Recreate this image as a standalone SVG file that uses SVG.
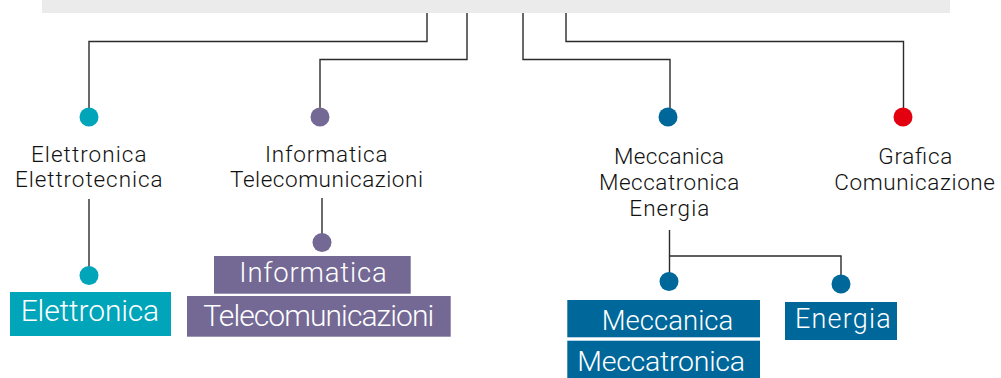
<svg xmlns="http://www.w3.org/2000/svg" width="1001" height="378" viewBox="0 0 1001 378">
<style>
.lbl{font-family:Roboto,"Liberation Sans",sans-serif;font-weight:300;font-size:22.5px;fill:#111111}
.box{font-family:Roboto,"Liberation Sans",sans-serif;font-weight:300;font-size:30px;fill:#ffffff}
.ln{fill:none;stroke:#2b2b2b;stroke-width:1.4}
.teal{fill:#00a5b9}.purple{fill:#736994}.blue{fill:#00679b}.red{fill:#e3000f}
</style>
<rect x="42" y="0" width="908" height="13" fill="#ebebeb"/>
<g id="connectors">
<path class="ln" d="M427 13V41.5H89V110"/>
<path class="ln" d="M467 13V59.5H320V110"/>
<path class="ln" d="M523 13V59.5H670V110"/>
<path class="ln" d="M566 13V41.5H903.5V110"/>
<path class="ln" d="M89 199V270"/>
<path class="ln" d="M322 198V236"/>
<path class="ln" d="M669.5 230V275M669.5 256H841V278"/>
</g>
<g id="elettronica">
<circle class="teal" cx="89" cy="117" r="9.5"/>
<text class="lbl" x="31" y="161.5" textLength="115.5">Elettronica</text>
<text class="lbl" x="15" y="187" textLength="147.5">Elettrotecnica</text>
<circle class="teal" cx="89" cy="275.5" r="9.5"/>
<rect class="teal" x="10" y="292" width="161" height="44"/>
<text class="box" x="20.7" y="320.5" textLength="138.5">Elettronica</text>
</g>
<g id="informatica">
<circle class="purple" cx="320" cy="117" r="9.5"/>
<text class="lbl" x="265" y="161.5" textLength="122.5">Informatica</text>
<text class="lbl" x="230" y="187" textLength="193">Telecomunicazioni</text>
<circle class="purple" cx="322" cy="242.5" r="9.5"/>
<rect class="purple" x="214" y="256" width="196.7" height="37.7"/>
<text class="box" x="239.3" y="281.7" textLength="147.4" style="font-size:27.5px">Informatica</text>
<rect class="purple" x="187" y="296" width="263.7" height="40.7"/>
<text class="box" x="203.3" y="326" textLength="231">Telecomunicazioni</text>
</g>
<g id="meccanica">
<circle class="blue" cx="668" cy="117" r="9.5"/>
<text class="lbl" x="614" y="164" textLength="110">Meccanica</text>
<text class="lbl" x="599" y="190.2" textLength="140.3">Meccatronica</text>
<text class="lbl" x="629.3" y="216.3" textLength="80">Energia</text>
<circle class="blue" cx="669" cy="281.5" r="9.5"/>
<circle class="blue" cx="841" cy="284" r="9.5"/>
<rect class="blue" x="567.3" y="300" width="192.7" height="37.3"/>
<text class="box" x="601.7" y="330" textLength="131.6" style="font-size:27.5px">Meccanica</text>
<rect class="blue" x="567.3" y="340.7" width="192.7" height="37.3"/>
<text class="box" x="577.3" y="370.7" textLength="167.7" style="font-size:28.5px">Meccatronica</text>
<rect class="blue" x="785" y="302" width="112" height="38"/>
<text class="box" x="795" y="327.7" textLength="95.7" style="font-size:27px">Energia</text>
</g>
<g id="grafica">
<circle class="red" cx="903" cy="117" r="9.5"/>
<text class="lbl" x="878.3" y="164" textLength="74">Grafica</text>
<text class="lbl" x="834.3" y="190.2" textLength="160.7">Comunicazione</text>
</g>
</svg>
